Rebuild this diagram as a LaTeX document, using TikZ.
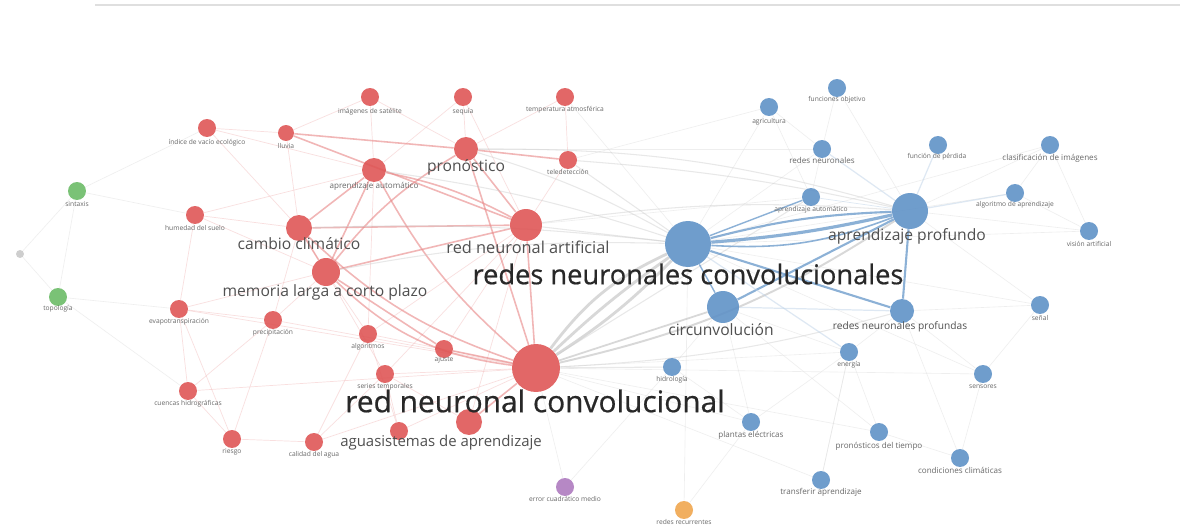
\documentclass[tikz,border=0pt]{standalone}
\usepackage{fontspec}
\setmainfont{Open Sans}
\newfontfamily\bigfont{Open Sans}[FakeBold=0.6]
\definecolor{vred}{RGB}{222,82,82}
\definecolor{vblue}{RGB}{92,144,198}
\definecolor{vgreen}{RGB}{104,186,100}
\definecolor{vpurple}{RGB}{172,120,190}
\definecolor{vorange}{RGB}{240,164,74}
\definecolor{vgray}{RGB}{200,200,200}
\definecolor{tbig}{RGB}{40,40,40}
\definecolor{tmid}{RGB}{80,80,80}
\definecolor{tsmall}{RGB}{105,105,105}
\pgfdeclarelayer{bg}
\pgfsetlayers{bg,main}
\newcommand{\vn}[5]{\node[circle,inner sep=0pt,minimum size=#4*0.04cm,fill=#5,fill opacity=0.88] (#1) at (#2,#3) {};}
\tikzset{
  lbig/.style={text=tbig,font=\bigfont\fontsize{15.5}{17}\selectfont,inner sep=0pt},
  lmid/.style={text=tmid,font=\fontsize{8.9}{10}\selectfont,inner sep=0pt},
  lsm/.style={text=tmid,font=\fontsize{5.8}{7}\selectfont,inner sep=0pt},
  ltiny/.style={text=tsmall,font=\fontsize{3.8}{5}\selectfont,inner sep=0pt},
  er/.style={draw=vred!70,line width=0.9pt,opacity=0.6},
  ef/.style={draw=vred!40,line width=0.4pt,opacity=0.45},
  eG/.style={draw=gray!55,line width=1.6pt,opacity=0.55},
  eg/.style={draw=gray!40,line width=0.6pt,opacity=0.45},
  eb/.style={draw=vblue,line width=1.2pt,opacity=0.7},
  ebf/.style={draw=vblue!40,line width=0.4pt,opacity=0.5},
  ez/.style={draw=gray!25,line width=0.35pt,opacity=0.5},
}
\begin{document}
\begin{tikzpicture}[x=0.02cm,y=-0.02cm]
\useasboundingbox (0,0) rectangle (1180,530);
\begin{pgfonlayer}{bg}
\fill[white] (0,0) rectangle (1180,530);
\end{pgfonlayer}
\draw[gray!25,line width=1.2pt] (95,5) -- (1180,5);
% red cluster
\vn{r1}{370}{97}{9}{vred}
\vn{r2}{463}{97}{9}{vred}
\vn{r3}{565}{97}{9}{vred}
\vn{r4}{207}{128}{9}{vred}
\vn{r5}{286}{133}{8}{vred}
\vn{r6}{466}{149}{12}{vred}
\vn{r7}{568}{160}{9}{vred}
\vn{r8}{374}{170}{12}{vred}
\vn{r9}{195}{215}{9}{vred}
\vn{r10}{299}{228}{13}{vred}
\vn{r11}{526}{225}{16}{vred}
\vn{r12}{326}{272}{14}{vred}
\vn{r13}{179}{309}{9}{vred}
\vn{r14}{273}{320}{9}{vred}
\vn{r15}{368}{334}{9}{vred}
\vn{r16}{444}{349}{9}{vred}
\vn{r17}{385}{374}{9}{vred}
\vn{r18}{536}{368}{24}{vred}
\vn{r19}{188}{391}{9}{vred}
\vn{r20}{399}{431}{9}{vred}
\vn{r21}{469}{422}{13}{vred}
\vn{r22}{232}{439}{9}{vred}
\vn{r23}{314}{442}{9}{vred}
% blue cluster
\vn{b1}{837}{88}{9}{vblue}
\vn{b2}{769}{107}{9}{vblue}
\vn{b3}{822}{149}{9}{vblue}
\vn{b4}{938}{145}{9}{vblue}
\vn{b5}{1050}{145}{9}{vblue}
\vn{b6}{811}{197}{9}{vblue}
\vn{b7}{910}{211}{18}{vblue}
\vn{b8}{1015}{193}{9}{vblue}
\vn{b9}{1089}{231}{9}{vblue}
\vn{b10}{688}{244}{23}{vblue}
\vn{b11}{723}{307}{16}{vblue}
\vn{b12}{902}{311}{12}{vblue}
\vn{b13}{1040}{305}{9}{vblue}
\vn{b14}{849}{352}{9}{vblue}
\vn{b15}{672}{367}{9}{vblue}
\vn{b16}{983}{374}{9}{vblue}
\vn{b17}{751}{422}{9}{vblue}
\vn{b18}{879}{432}{9}{vblue}
\vn{b19}{960}{458}{9}{vblue}
\vn{b20}{821}{480}{9}{vblue}
% other clusters
\vn{g1}{77}{191}{9}{vgreen}
\vn{g2}{58}{297}{9}{vgreen}
\vn{x0}{20}{254}{4}{vgray}
\vn{p1}{565}{487}{9}{vpurple}
\vn{o1}{684}{510}{9}{vorange}
% labels
\node[ltiny] (r1l) at (370,112) {imágenes de satélite};
\node[ltiny] (r2l) at (463,112) {sequía};
\node[ltiny] (r3l) at (565,110) {temperatura atmosférica};
\node[ltiny] (r4l) at (207,143) {índice de vacío ecológico};
\node[ltiny] (r5l) at (286,146) {lluvia};
\node[lmid] (r6l) at (466,167) {pronóstico};
\node[ltiny] (r7l) at (568,172) {teledetección};
\node[ltiny,font=\fontsize{4.6}{6}\selectfont] (r8l) at (374,186) {aprendizaje automático};
\node[ltiny] (r9l) at (195,228) {humedad del suelo};
\node[lmid] (r10l) at (299,244) {cambio climático};
\node[lmid,font=\fontsize{9.3}{10}\selectfont] (r11l) at (528,247) {red neuronal artificial};
\node[lmid] (r12l) at (325,292) {memoria larga a corto plazo};
\node[ltiny] (r13l) at (179,322) {evapotranspiración};
\node[ltiny] (r14l) at (273,333) {precipitación};
\node[ltiny] (r15l) at (368,347) {algoritmos};
\node[ltiny] (r16l) at (444,360) {ajuste};
\node[ltiny] (r17l) at (385,387) {series temporales};
\node[lbig,font=\bigfont\fontsize{17}{18}\selectfont] (r18l) at (535,401) {red neuronal convolucional};
\node[ltiny] (r19l) at (188,404) {cuencas hidrográficas};
\node[lmid,font=\fontsize{8.5}{10}\selectfont] (r21l) at (441,443) {aguasistemas de aprendizaje};
\node[ltiny] (r22l) at (232,452) {riesgo};
\node[ltiny] (r23l) at (314,455) {calidad del agua};
\node[ltiny] (b1l) at (837,100) {funciones objetivo};
\node[ltiny] (b2l) at (769,122) {agricultura};
\node[ltiny,font=\fontsize{4.6}{6}\selectfont] (b3l) at (822,160) {redes neuronales};
\node[ltiny] (b4l) at (937,157) {función de pérdida};
\node[ltiny,font=\fontsize{4.6}{6}\selectfont] (b5l) at (1050,158) {clasificación de imágenes};
\node[ltiny] (b6l) at (811,210) {aprendizaje automático};
\node[lmid] (b7l) at (907,236) {aprendizaje profundo};
\node[ltiny] (b8l) at (1015,205) {algoritmo de aprendizaje};
\node[ltiny] (b9l) at (1089,244) {visión artificial};
\node[lbig] (b10l) at (688,274) {redes neuronales convolucionales};
\node[lmid] (b11l) at (721,330) {circunvolución};
\node[lsm] (b12l) at (900,327) {redes neuronales profundas};
\node[ltiny] (b13l) at (1040,318) {señal};
\node[ltiny] (b14l) at (849,365) {energía};
\node[ltiny] (b15l) at (672,380) {hidrología};
\node[ltiny] (b16l) at (983,387) {sensores};
\node[ltiny,font=\fontsize{4.6}{6}\selectfont] (b17l) at (751,435) {plantas eléctricas};
\node[ltiny,font=\fontsize{4.6}{6}\selectfont] (b18l) at (879,446) {pronósticos del tiempo};
\node[ltiny,font=\fontsize{4.6}{6}\selectfont] (b19l) at (960,470) {condiciones climáticas};
\node[ltiny,font=\fontsize{4.6}{6}\selectfont] (b20l) at (821,492) {transferir aprendizaje};
\node[ltiny] (g1l) at (77,204) {sintaxis};
\node[ltiny] (g2l) at (58,309) {topología};
\node[ltiny] (p1l) at (565,499) {error cuadrático medio};
\node[ltiny] (o1l) at (684,522) {redes recurrentes};
% edges
\begin{pgfonlayer}{bg}
% very faint
\foreach \a/\b in {g1/g2,g1/r9,g2/r13,x0/g2,x0/g1,g1/r4,g2/r19,p1/r18,o1/b10,o1/b17,p1/b15,
  b7/b5,b7/b9,b7/b13,b12/b16,b12/b14,b14/b18,b18/b19,b17/b14,b20/b14,b12/b19,b2/b10,b1/b3,b3/b10,
  b11/b15,b11/b17,b5/b8,b8/b9,b13/b16,b16/b19,b14/b20,b2/b3,b1/b7,b5/b9,b12/b13,b11/b14,b15/b17,
  r18/b14,r18/b17,r18/b20,r18/b18,b10/b16,b10/b13,b11/b18,r11/b6,r6/b3,r7/b2,r3/b10,r18/b16,
  b10/b9,b10/b5,b10/b8,b6/b3,b2/b6}
  \draw[ez] (\a) -- (\b);
% faint red
\foreach \a/\b in {r4/r10,r9/r10,r13/r12,r14/r12,r19/r13,r19/r22,r22/r23,r23/r18,r15/r18,r17/r18,
  r1/r6,r2/r6,r3/r7,r20/r18,r13/r14,r9/r12,r4/r5,r1/r8,r2/r11,r16/r11,r14/r10,r4/r8,r9/r13,
  r19/r14,r22/r14,r23/r17,r20/r17,r15/r12,r15/r11,r14/r18,r13/r18,r19/r18,r17/r12,r21/r17,
  r10/r12,r3/r6,r2/r8,r1/r5,r7/r11,r23/r15,r20/r15,r22/r13,r9/r8,r5/r10,r17/r11,r21/r11,r15/r8}
  \draw[ef] (\a) -- (\b);
% strong red
\draw[er] (r12) to[bend right=18] (r18);
\draw[er] (r8) to[bend left=8] (r11);
\draw[er] (r10) -- (r11);
\draw[er] (r5) -- (r11);
\draw[er] (r5) -- (r6);
\draw[er] (r6) -- (r7);
\draw[er] (r12) to[bend left=10] (r6);
\draw[er] (r6) -- (r11);
\draw[er] (r6) -- (r18);
\draw[er] (r12) -- (r11);
\draw[er] (r12) -- (r10);
\draw[er] (r8) -- (r12);
\draw[er] (r8) -- (r10);
\draw[er] (r11) -- (r18);
\draw[er] (r16) -- (r18);
\draw[er] (r21) -- (r18);
\draw[er] (r12) -- (r16);
\draw[er] (r8) to[bend right=10] (r18);
\draw[er] (r10) to[bend right=12] (r18);
% gray inter-cluster
\draw[eG] (r18) to[bend left=14] (b10);
\draw[eG] (r18) to[bend left=4] (b10);
\draw[eG] (r18) to[bend right=6] (b10);
\draw[eG,line width=1.1pt] (r18) to[bend right=10] (b7);
\draw[eG,line width=1pt] (r18) -- (b11);
\draw[eg] (r18) to[bend right=6] (b12);
\draw[eg] (r18) -- (b15);
\draw[eg] (r11) -- (b10);
\draw[eg] (r6) to[bend left=6] (b10);
\draw[eg] (r7) -- (b10);
\draw[eg] (r8) to[bend left=5] (b10);
\draw[eg] (r11) to[bend left=6] (b7);
\draw[eg] (r6) to[bend left=8] (b7);
\draw[eg] (r7) to[bend left=4] (b7);
\draw[eg] (r12) to[bend left=6] (b10);
\draw[eg] (r10) to[bend left=4] (b10);
\draw[eg] (r18) -- (b6);
% blue strong
\draw[eb,line width=1.8pt] (b10) to[bend right=4] (b7);
\draw[eb] (b10) to[bend left=6] (b7);
\draw[eb,line width=0.9pt] (b10) to[bend right=12] (b7);
\draw[eb,line width=0.8pt] (b10) -- (b6);
\draw[eb] (b11) -- (b7);
\draw[eb] (b12) -- (b7);
\draw[eb] (b10) -- (b12);
\draw[eb,line width=0.8pt] (b10) -- (b11);
\draw[ebf,line width=0.7pt] (b7) -- (b4);
\draw[ebf,line width=0.7pt] (b7) -- (b8);
\draw[ebf,line width=0.7pt] (b7) -- (b3);
\draw[ebf,line width=0.7pt] (b10) -- (b14);
\draw[ebf,line width=0.7pt] (b11) -- (b12);
\draw[ebf] (b7) -- (b6);
\end{pgfonlayer}
\end{tikzpicture}
\end{document}
